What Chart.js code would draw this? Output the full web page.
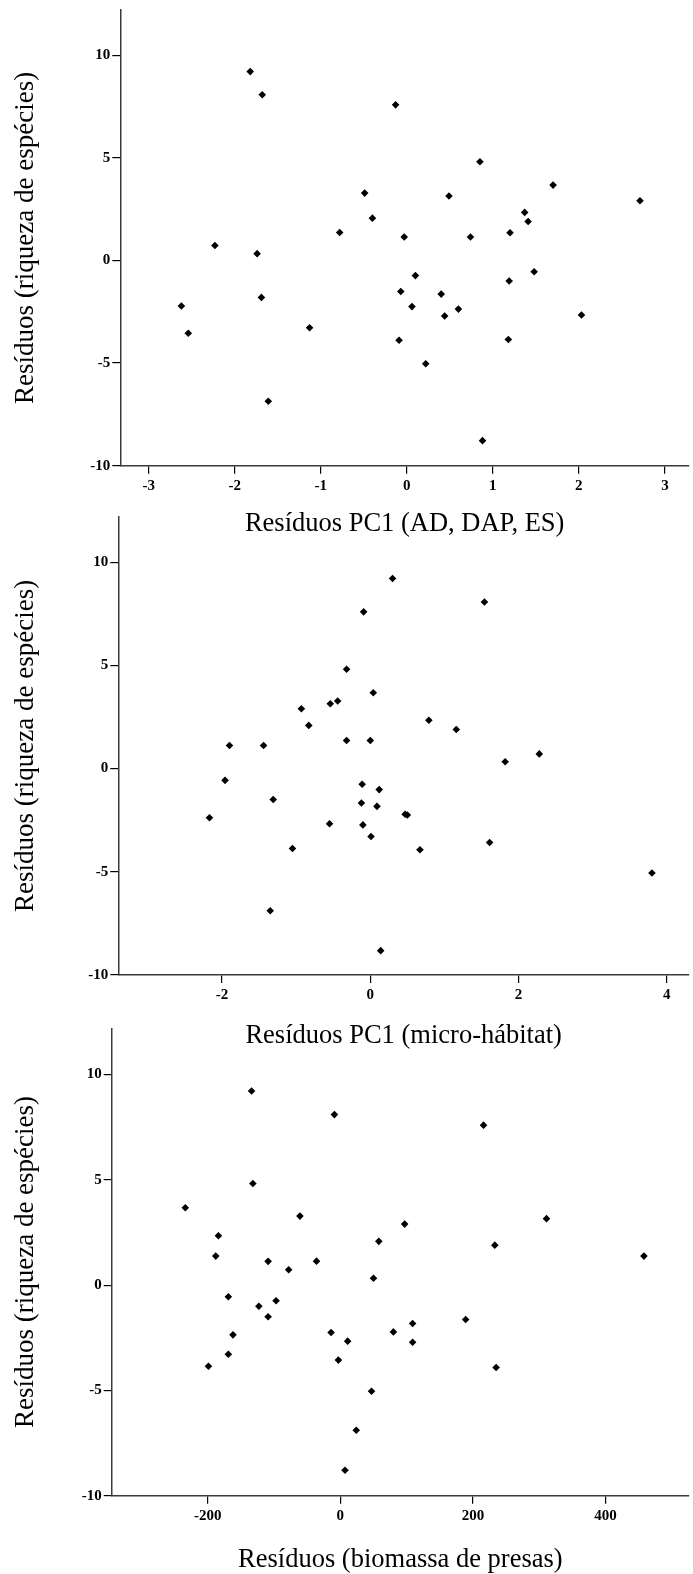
<!DOCTYPE html>
<html><head><meta charset="utf-8">
<script src="https://cdn.jsdelivr.net/npm/chart.js@4.4.0/dist/chart.umd.min.js"></script>
<style>
html,body{margin:0;padding:0;background:#fff;}
#wrap{position:relative;width:693px;height:1574px;overflow:hidden;background:#fff;}
canvas{position:absolute;left:0;}
</style></head><body>
<div id="wrap">
<canvas id="c1" width="693" height="545" style="top:0px"></canvas>
<canvas id="c2" width="693" height="550" style="top:505px"></canvas>
<canvas id="c3" width="693" height="559" style="top:1015px"></canvas>
</div>
<script>
// ---- text ----
const yTitle = 'Resíduos (riqueza de espécies)';
const xTitle1 = 'Resíduos PC1 (AD, DAP, ES)';
const xTitle2 = 'Resíduos PC1 (micro-hábitat)';
const xTitle3 = 'Resíduos (biomassa de presas)';

// ---- tick values ----
const yTicks = [-10, -5, 0, 5, 10];
const xTicks1 = [-3, -2, -1, 0, 1, 2, 3];
const xTicks2 = [-2, 0, 2, 4];
const xTicks3 = [-200, 0, 200, 400];

// ---- panel 1: PC1 (AD, DAP, ES) ----
const pc1AdX = [-1.82, -1.68, -0.13, 0.85, 1.70, -0.49, 0.49, 2.71, 1.37, -0.40, 1.41, -0.78, 1.20, -0.03, 0.74, -2.23, -1.74, 1.48, 0.10, 1.19, -0.07, 0.40, -1.69, -2.62, 0.06, 0.60, 2.03, 0.44, -1.13, -2.54, 1.18, -0.09, 0.22, -1.61, 0.88];
const pc1AdY = [9.20, 8.07, 7.58, 4.81, 3.67, 3.28, 3.14, 2.91, 2.34, 2.06, 1.90, 1.36, 1.35, 1.14, 1.14, 0.73, 0.33, -0.55, -0.74, -1.00, -1.51, -1.64, -1.80, -2.22, -2.25, -2.37, -2.66, -2.71, -3.28, -3.55, -3.85, -3.89, -5.03, -6.86, -8.78];

// ---- panel 2: PC1 (micro-hábitat) ----
const microX = [0.30, 1.54, -0.09, -0.32, 0.04, -0.44, -0.54, -0.93, 0.79, -0.83, 1.16, -0.32, 0.00, -1.90, -1.44, 2.28, 1.82, -1.96, -0.11, 0.12, -1.31, -0.12, 0.09, -2.17, 0.50, 0.47, -0.55, -0.10, 0.01, 1.61, -1.05, 0.67, 3.80, -1.35, 0.14];
const microY = [9.21, 8.07, 7.59, 4.81, 3.67, 3.27, 3.14, 2.90, 2.34, 2.09, 1.89, 1.36, 1.36, 1.12, 1.12, 0.71, 0.33, -0.57, -0.76, -1.02, -1.50, -1.67, -1.83, -2.38, -2.25, -2.21, -2.67, -2.73, -3.29, -3.58, -3.87, -3.93, -5.06, -6.89, -8.82];

// ---- panel 3: biomassa de presas ----
const biomX = [-134, -9, 216, -132, -234, -61, 311, 97, -184, 58, 233, -188, 458, -109, -36, -78, 50, -169, -97, -123, -109, 189, 109, -162, -14, 80, 11, 109, -169, -3, -199, 235, 47, 24, 7];
const biomY = [9.22, 8.10, 7.60, 4.83, 3.68, 3.28, 3.16, 2.90, 2.35, 2.08, 1.90, 1.38, 1.38, 1.13, 1.14, 0.73, 0.33, -0.55, -0.74, -1.00, -1.50, -1.63, -1.82, -2.36, -2.25, -2.22, -2.66, -2.71, -3.28, -3.56, -3.85, -3.91, -5.04, -6.89, -8.79];

const SERIF = '"Liberation Serif", "Times New Roman", serif';

function makeChart(id, xs, ys, xTicks, xMin, xMax, xTitle, g) {
  const pts = xs.map((x, i) => ({x: x, y: ys[i]}));
  const xScaleH = g.height - (g.plotBottom - g.top);
  return new Chart(document.getElementById(id), {
    type: 'scatter',
    data: { datasets: [{
      data: pts,
      pointStyle: 'rectRot',
      pointRadius: 3.8,
      pointBorderWidth: 0,
      backgroundColor: '#000',
      borderColor: '#000'
    }]},
    options: {
      responsive: false,
      animation: false,
      layout: { padding: { top: g.plotTop - g.top, left: 0, right: 0, bottom: 0 } },
      plugins: { legend: { display: false }, tooltip: { enabled: false } },
      scales: {
        x: {
          type: 'linear', min: xMin, max: xMax,
          afterBuildTicks: s => { s.ticks = xTicks.map(v => ({value: v})); },
          afterFit: s => { s.height = xScaleH; s.paddingLeft = 0; s.paddingRight = 0; s.paddingTop = 0; s.paddingBottom = 0; },
          grid: { drawOnChartArea: false, drawTicks: true, tickLength: 8, color: '#000', lineWidth: 1.2 },
          border: { display: true, color: '#3a3a3a', width: 1.5 },
          ticks: { color: '#000', padding: 3, maxRotation: 0, autoSkip: false,
                   font: { family: SERIF, size: 15, weight: 'bold', lineHeight: 1.2 } },
          title: { display: true, text: xTitle, color: '#000',
                   font: { family: SERIF, size: 26.5, weight: 'normal', lineHeight: 1 },
                   padding: { top: 0, bottom: g.titlePad } }
        },
        y: {
          type: 'linear', min: -10, max: 12.2,
          afterBuildTicks: s => { s.ticks = yTicks.map(v => ({value: v})); },
          afterFit: s => { s.width = g.plotLeft; s.paddingLeft = 0; s.paddingRight = 0; s.paddingTop = 0; s.paddingBottom = 0; },
          grid: { drawOnChartArea: false, drawTicks: true, tickLength: 8, color: '#000', lineWidth: 1.2 },
          border: { display: true, color: '#3a3a3a', width: 1.5 },
          ticks: { color: '#000', padding: 2, autoSkip: false,
                   font: { family: SERIF, size: 15, weight: 'bold', lineHeight: 1.2 } },
          title: { display: true, text: yTitle, color: '#000',
                   font: { family: SERIF, size: 27, weight: 'normal', lineHeight: 1 },
                   padding: { top: 12.5, bottom: 0 } }
        }
      }
    }
  });
}

makeChart('c1', pc1AdX, pc1AdY, xTicks1, -3.33, 3.28, xTitle1,
  {top: 0, height: 545, plotTop: 10, plotBottom: 465.7, plotLeft: 120.3, titlePad: 7.3});
makeChart('c2', microX, microY, xTicks2, -3.40, 4.30, xTitle2,
  {top: 505, height: 550, plotTop: 516.7, plotBottom: 975, plotLeft: 118.3, titlePad: 5.7});
makeChart('c3', biomX, biomY, xTicks3, -345, 526, xTitle3,
  {top: 1015, height: 559, plotTop: 1028.3, plotBottom: 1495.7, plotLeft: 111.7, titlePad: 0.7});
</script>
</body></html>
